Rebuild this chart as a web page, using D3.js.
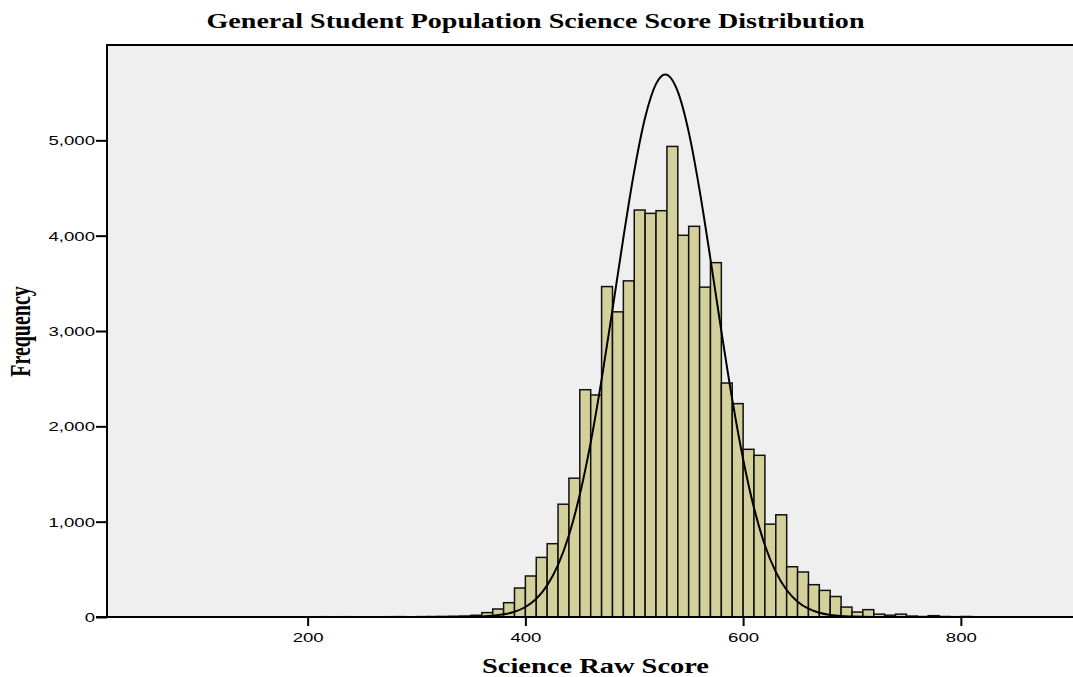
<!DOCTYPE html>
<html>
<head>
<meta charset="utf-8">
<script src="https://cdn.jsdelivr.net/npm/d3@7"></script>
<style>
  html, body { margin: 0; padding: 0; background: #ffffff; }
  svg { display: block; }
</style>
</head>
<body>
<svg id="chart" width="1073" height="677"></svg>
<script>
// ---------------- data ----------------
const titleText = "General Student Population Science Score Distribution";
const xTitle = "Science Raw Score";
const yTitle = "Frequency";

const binWidth = 10;
const binStart = [60, 70, 80, 210, 230, 270, 280, 290, 300, 310, 320, 330, 340, 350,
  360, 370, 380, 390, 400, 410, 420, 430, 440, 450, 460, 470, 480, 490, 500, 510, 520,
  530, 540, 550, 560, 570, 580, 590, 600, 610, 620, 630, 640, 650, 660, 670, 680, 690,
  700, 710, 720, 730, 740, 750, 760, 770, 780, 790, 800, 820, 830, 860, 870];
const frequency = [2, 2, 2, 3, 3, 3, 4, 2, 4, 5, 6, 8, 10, 18,
  46, 84, 150, 304, 430, 625, 769, 1183, 1456, 2384, 2329, 3466, 3201, 3526, 4269, 4234, 4262,
  4936, 4004, 4098, 3460, 3717, 2454, 2238, 1759, 1696, 974, 1072, 527, 472, 339, 279, 215, 104,
  52, 77, 30, 19, 30, 10, 5, 14, 5, 3, 5, 2, 2, 2, 2];

// normal curve
const curveX = [20, 300, 340, 350, 360, 370, 380, 390, 400, 410, 420, 430, 440, 450, 460, 470,
  480, 490, 500, 510, 520, 528.5, 540, 550, 560, 570, 580, 590, 600, 610, 620, 630, 640, 650,
  660, 670, 680, 690, 700, 710, 720, 760, 900];
const curveY = [0, 0, 1, 3, 6, 13, 28, 55, 105, 192, 332, 546, 858, 1284, 1832, 2490,
  3224, 3978, 4677, 5239, 5592, 5690, 5511, 5089, 4478, 3754, 2999, 2282, 1655, 1144, 753, 473, 283, 161,
  87, 45, 22, 10, 5, 2, 1, 0, 0];

const yTicks = [0, 1000, 2000, 3000, 4000, 5000];
const xTicks = [200, 400, 600, 800];

// ---------------- layout ----------------
const pL = 107, pT = 45, pR = 1073, pB = 617;
const stretch = 1.43;

const svg = d3.select("#chart");

const x = d3.scaleLinear().domain([15.7, 903]).range([pL, pR]);
const y = d3.scaleLinear().domain([0, 6000]).range([pB, pT]);

// plot background
svg.append("rect")
  .attr("x", pL).attr("y", pT)
  .attr("width", pR - pL + 5).attr("height", pB - pT)
  .attr("fill", "#efefef");

svg.append("defs").append("clipPath").attr("id", "clip")
  .append("rect").attr("x", pL).attr("y", pT - 2)
  .attr("width", pR - pL + 5).attr("height", pB - pT + 2);

const plot = svg.append("g").attr("clip-path", "url(#clip)");

// bars
const bins = binStart.map((s, i) => ({ s, f: frequency[i] }));
plot.append("g").selectAll("rect").data(bins).join("rect")
  .attr("x", d => x(d.s))
  .attr("y", d => y(d.f))
  .attr("width", d => x(d.s + binWidth) - x(d.s))
  .attr("height", d => y(0) - y(d.f))
  .attr("fill", "#d4d09c")
  .attr("stroke", "#111")
  .attr("stroke-width", 1.5);

// normal curve
const pts = curveX.map((v, i) => [v, curveY[i]]);
plot.append("path")
  .datum(pts)
  .attr("fill", "none")
  .attr("stroke", "#000")
  .attr("stroke-width", 2)
  .attr("d", d3.line().x(d => x(d[0])).y(d => y(d[1])).curve(d3.curveMonotoneX));

// frame lines
svg.append("line").attr("x1", pL).attr("x2", pL).attr("y1", pT - 1).attr("y2", pB)
  .attr("stroke", "#000").attr("stroke-width", 2);
svg.append("line").attr("x1", pL - 1).attr("x2", pR + 2).attr("y1", pT).attr("y2", pT)
  .attr("stroke", "#000").attr("stroke-width", 2);

// y axis
const yAxis = svg.append("g").attr("transform", `translate(${pL},0)`)
  .call(d3.axisLeft(y).tickValues(yTicks).tickFormat(d3.format(",")).tickSize(11).tickSizeOuter(0));
yAxis.select(".domain").remove();
yAxis.selectAll(".tick line").attr("stroke", "#000").attr("stroke-width", 2);
yAxis.selectAll(".tick text")
  .attr("x", 0).attr("dy", "0.34em")
  .attr("transform", `translate(-12,0) scale(${stretch},1)`)
  .attr("font-family", "'Liberation Sans', Arial, sans-serif")
  .attr("font-size", 13)
  .attr("fill", "#000")
  .attr("text-anchor", "end");

// x axis
const xAxis = svg.append("g").attr("transform", `translate(0,${pB})`)
  .call(d3.axisBottom(x).tickValues(xTicks).tickFormat(d3.format("d")).tickSize(9).tickSizeOuter(0));
xAxis.select(".domain").remove();
xAxis.selectAll(".tick line").attr("stroke", "#000").attr("stroke-width", 2);
xAxis.selectAll(".tick text")
  .attr("y", 25).attr("dy", 0)
  .attr("transform", `scale(${stretch},1)`)
  .attr("font-family", "'Liberation Sans', Arial, sans-serif")
  .attr("font-size", 13)
  .attr("fill", "#000")
  .attr("text-anchor", "middle");

// baseline axis line
svg.append("line").attr("x1", pL - 11).attr("x2", pR + 2).attr("y1", pB).attr("y2", pB)
  .attr("stroke", "#000").attr("stroke-width", 2.2);

// titles
svg.append("text")
  .attr("x", 535.5).attr("y", 28)
  .attr("text-anchor", "middle")
  .attr("font-family", "'Liberation Serif', 'Times New Roman', serif")
  .attr("font-weight", "bold")
  .attr("font-size", 20)
  .attr("textLength", 658)
  .attr("lengthAdjust", "spacingAndGlyphs")
  .text(titleText);

svg.append("text")
  .attr("x", 595.5).attr("y", 673)
  .attr("text-anchor", "middle")
  .attr("font-family", "'Liberation Serif', 'Times New Roman', serif")
  .attr("font-weight", "bold")
  .attr("font-size", 21)
  .attr("textLength", 227)
  .attr("lengthAdjust", "spacingAndGlyphs")
  .text(xTitle);

svg.append("text")
  .attr("transform", `translate(30,331.5) scale(${stretch},1) rotate(-90)`)
  .attr("text-anchor", "middle")
  .attr("font-family", "'Liberation Serif', 'Times New Roman', serif")
  .attr("font-weight", "bold")
  .attr("font-size", 20)
  .text(yTitle);
</script>
</body>
</html>
